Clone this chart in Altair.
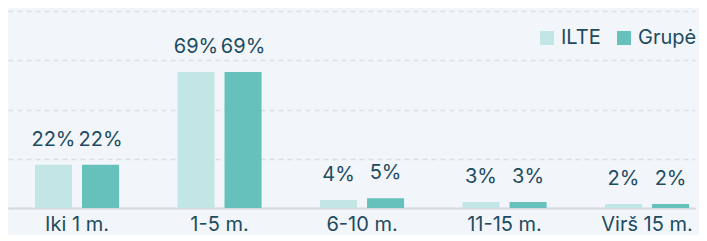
import altair as alt
import pandas as pd

categories = ["Iki 1 m.", "1-5 m.", "6-10 m.", "11-15 m.", "Virš 15 m."]
series = ["ILTE", "Grupė"]
ilte = [22, 69, 4, 3, 2]
grupe = [22, 69, 5, 3, 2]
grid_values = [0, 25, 50, 75, 100]

rows = []
for c, a, b in zip(categories, ilte, grupe):
    rows.append({"cat": c, "series": "ILTE", "value": a})
    rows.append({"cat": c, "series": "Grupė", "value": b})
df = pd.DataFrame(rows)
df["label"] = df["value"].astype(str) + "%"

FONT = "Inter"
TXT = "#1d4b61"

x = alt.X("cat:N", sort=categories, title=None,
          scale=alt.Scale(paddingInner=0.41, paddingOuter=0.1154, align=0.82),
          axis=alt.Axis(labelAngle=0, labelFontSize=20, labelColor=TXT, labelFont=FONT,
                        ticks=False, domain=True, domainColor="#d5d9dd", domainWidth=2,
                        labelPadding=6, grid=False, labelOverlap=False))
xo = alt.XOffset("series:N", sort=series, scale=alt.Scale(paddingInner=0.213, paddingOuter=0))
y = alt.Y("value:Q", scale=alt.Scale(domain=[0, 100], nice=False), title=None,
          axis=alt.Axis(labels=False, ticks=False, domain=False, values=grid_values,
                        grid=True, gridColor="#dcdfe3", gridDash=[5, 4], gridWidth=1.5))

base = alt.Chart(df).encode(x=x, xOffset=xo, y=y)

bars = base.mark_bar().encode(
    color=alt.Color("series:N", sort=series,
                    scale=alt.Scale(domain=series, range=["#c2e6e5", "#66c0bc"]),
                    legend=alt.Legend(title=None, orient="none", direction="horizontal",
                                      legendX=529, legendY=17, symbolType="square", symbolSize=196,
                                      symbolStrokeWidth=0, labelFontSize=20, labelColor=TXT,
                                      labelFont=FONT, columnPadding=13, labelOffset=4)),
)

labels = base.mark_text(baseline="alphabetic", dy=-19, fontSize=20, color=TXT, font=FONT).encode(
    text="label:N"
)

chart = alt.layer(bars, labels).properties(
    width=687, height=197, background="#f2f6fa",
    padding={"left": 0, "top": 3, "right": 4, "bottom": 27},
    autosize=alt.AutoSizeParams(type="none"),
).configure_view(stroke=None)

chart.save("out.html", embed_options={"renderer": "svg", "actions": False})
